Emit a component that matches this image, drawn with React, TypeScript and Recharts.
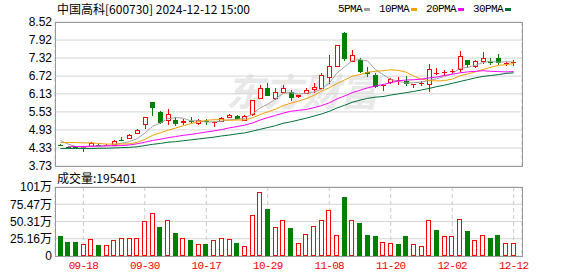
import React from 'react';
import { ComposedChart, Bar, Line, XAxis, YAxis, CartesianGrid } from 'recharts';

// 中国高科 600730 日K, 2024-09-11 .. 2024-12-12
const dates = [
  '09-11', '09-12', '09-13', '09-18', '09-19', '09-20', '09-23', '09-24', '09-25', '09-26',
  '09-27', '09-30', '10-08', '10-09', '10-10', '10-11', '10-14', '10-15', '10-16', '10-17',
  '10-18', '10-21', '10-22', '10-23', '10-24', '10-25', '10-28', '10-29', '10-30', '10-31',
  '11-01', '11-04', '11-05', '11-06', '11-07', '11-08', '11-11', '11-12', '11-13', '11-14',
  '11-15', '11-18', '11-19', '11-20', '11-21', '11-22', '11-25', '11-26', '11-27', '11-28',
  '11-29', '12-02', '12-03', '12-04', '12-05', '12-06', '12-09', '12-10', '12-11', '12-12',
];

const opens = [
  4.43, 4.36, 4.36, 4.33, 4.38, 4.43, 4.41, 4.42, 4.61, 4.66,
  4.80, 5.12, 5.87, 5.53, 5.24, 5.25, 5.17, 5.22, 5.15, 5.23,
  5.15, 5.22, 5.35, 5.40, 5.25, 5.43, 5.98, 6.31, 5.96, 6.18,
  6.20, 6.03, 6.15, 6.26, 6.30, 6.66, 7.05, 8.17, 7.22, 7.24,
  6.85, 6.75, 6.38, 6.50, 6.57, 6.55, 6.42, 6.45, 6.43, 6.80,
  6.82, 6.88, 6.94, 7.27, 7.05, 7.22, 7.18, 7.33, 7.15, 7.15,
];
const highs = [
  4.45, 4.37, 4.38, 4.38, 4.52, 4.46, 4.47, 4.58, 4.70, 4.78,
  4.97, 5.35, 5.87, 5.55, 5.64, 5.35, 5.28, 5.36, 5.28, 5.30,
  5.20, 5.37, 5.46, 5.42, 5.42, 5.92, 6.44, 6.50, 6.32, 6.44,
  6.27, 6.10, 6.33, 6.48, 6.81, 7.42, 7.75, 8.18, 7.60, 7.33,
  7.02, 6.83, 6.44, 6.66, 6.68, 6.72, 6.47, 6.55, 7.11, 6.98,
  6.92, 6.96, 7.57, 7.27, 7.24, 7.53, 7.33, 7.47, 7.20, 7.25,
];
const lows = [
  4.39, 4.33, 4.33, 4.19, 4.37, 4.39, 4.38, 4.41, 4.59, 4.63,
  4.79, 4.96, 5.40, 5.14, 5.08, 5.05, 5.10, 5.13, 5.09, 5.10,
  5.03, 5.20, 5.33, 5.28, 5.22, 5.40, 5.96, 6.05, 5.94, 6.15,
  5.88, 5.98, 6.12, 6.17, 6.28, 6.46, 7.02, 7.22, 7.20, 6.83,
  6.68, 6.33, 6.22, 6.45, 6.44, 6.38, 6.31, 6.38, 6.20, 6.75,
  6.72, 6.78, 6.86, 6.98, 6.98, 7.12, 7.08, 7.10, 7.05, 7.05,
];
const closes = [
  4.41, 4.35, 4.34, 4.36, 4.47, 4.41, 4.43, 4.54, 4.60, 4.74,
  4.91, 5.33, 5.67, 5.16, 5.44, 5.12, 5.22, 5.20, 5.23, 5.18,
  5.19, 5.31, 5.42, 5.31, 5.37, 5.91, 6.31, 6.07, 6.16, 6.31,
  5.98, 6.08, 6.24, 6.35, 6.74, 7.03, 7.73, 7.30, 7.42, 6.85,
  6.78, 6.37, 6.42, 6.61, 6.59, 6.45, 6.46, 6.48, 6.93, 6.83,
  6.86, 6.90, 7.36, 7.08, 7.22, 7.30, 7.16, 7.15, 7.17, 7.18,
];
const prevCloseBefore = 4.45;

const ma5 = [
  4.58, 4.46, 4.38, 4.35, 4.39, 4.39, 4.40, 4.44, 4.49, 4.54,
  4.64, 4.82, 5.05, 5.16, 5.30, 5.34, 5.32, 5.23, 5.24, 5.19,
  5.20, 5.22, 5.27, 5.28, 5.32, 5.46, 5.66, 5.79, 5.96, 6.15,
  6.17, 6.12, 6.15, 6.19, 6.28, 6.49, 6.82, 7.03, 7.24, 7.27,
  7.22, 6.94, 6.77, 6.61, 6.55, 6.49, 6.50, 6.52, 6.58, 6.63,
  6.71, 6.80, 6.98, 7.01, 7.08, 7.17, 7.22, 7.18, 7.20, 7.19,
];
const ma10 = [
  4.51, 4.51, 4.51, 4.50, 4.50, 4.48, 4.46, 4.46, 4.46, 4.47,
  4.52, 4.61, 4.75, 4.83, 4.92, 4.99, 5.07, 5.14, 5.20, 5.25,
  5.27, 5.27, 5.25, 5.26, 5.26, 5.33, 5.44, 5.53, 5.62, 5.74,
  5.82, 5.89, 5.97, 6.08, 6.22, 6.33, 6.47, 6.59, 6.72, 6.77,
  6.85, 6.88, 6.90, 6.93, 6.91, 6.85, 6.72, 6.62, 6.57, 6.56,
  6.57, 6.62, 6.73, 6.79, 6.86, 6.94, 7.01, 7.08, 7.10, 7.14,
];
const ma20 = [
  null, 4.37, 4.38, 4.38, 4.39, 4.39, 4.40, 4.40, 4.41, 4.43,
  4.47, 4.52, 4.58, 4.62, 4.67, 4.71, 4.75, 4.78, 4.82, 4.86,
  4.90, 4.94, 5.00, 5.04, 5.09, 5.16, 5.26, 5.34, 5.41, 5.49,
  5.55, 5.58, 5.61, 5.67, 5.74, 5.83, 5.96, 6.06, 6.17, 6.25,
  6.33, 6.39, 6.44, 6.50, 6.56, 6.59, 6.60, 6.62, 6.66, 6.69,
  6.74, 6.78, 6.83, 6.86, 6.88, 6.90, 6.88, 6.87, 6.86, 6.87,
];
const ma30 = [
  4.31, 4.31, 4.31, 4.31, 4.31, 4.32, 4.32, 4.33, 4.34, 4.35,
  4.37, 4.41, 4.45, 4.48, 4.52, 4.54, 4.57, 4.60, 4.63, 4.66,
  4.69, 4.73, 4.76, 4.80, 4.83, 4.89, 4.95, 5.01, 5.07, 5.15,
  5.20, 5.26, 5.32, 5.39, 5.46, 5.55, 5.66, 5.75, 5.85, 5.92,
  5.98, 6.02, 6.04, 6.09, 6.13, 6.17, 6.21, 6.26, 6.31, 6.37,
  6.42, 6.48, 6.54, 6.60, 6.66, 6.71, 6.74, 6.77, 6.81, 6.83,
];

// 成交量, 万股
const volumes = [
  28.8, 20.0, 20.0, 18.0, 24.4, 15.6, 15.6, 23.0, 25.9, 25.9,
  25.9, 50.7, 62.0, 42.0, 53.0, 33.0, 26.8, 23.0, 18.0, 17.0,
  23.0, 25.9, 24.4, 18.5, 14.0, 60.5, 94.0, 68.0, 43.0, 52.0,
  40.5, 19.5, 32.7, 44.4, 53.0, 67.8, 31.2, 85.9, 53.0, 47.8,
  30.2, 28.8, 21.0, 19.5, 17.0, 28.8, 18.0, 15.0, 53.0, 37.6,
  28.8, 29.8, 54.6, 36.0, 24.0, 31.2, 25.9, 31.2, 19.5, 19.54,
];

const priceTicks = [3.73, 4.33, 4.93, 5.53, 6.13, 6.72, 7.32, 7.92, 8.52];
const volTicks = [0, 25.16, 50.31, 75.47, 100.63];
const volTickLabels = ['0', '25.16万', '50.31万', '75.47万', '101万'];
const dateTicks = ['09-18', '09-30', '10-17', '10-29', '11-08', '11-20', '12-02', '12-12'];

const maSeries = [
  { key: 'ma5', name: '5PMA', color: '#a0a0a0' },
  { key: 'ma10', name: '10PMA', color: '#f0a000' },
  { key: 'ma20', name: '20PMA', color: '#ff00ff' },
  { key: 'ma30', name: '30PMA', color: '#00703a' },
];

const RED = '#ff0000';
const GREEN = '#008000';
const W = 578;
const PLOT_LEFT = 55;
const PLOT_RIGHT = 56;

const data = dates.map((d, i) => ({
  date: d,
  open: opens[i],
  high: highs[i],
  low: lows[i],
  close: closes[i],
  range: [lows[i], highs[i]],
  ma5: ma5[i],
  ma10: ma10[i],
  ma20: ma20[i],
  ma30: ma30[i],
  vol: volumes[i],
  volUp: closes[i] >= (i === 0 ? prevCloseBefore : closes[i - 1]),
}));

const Candle = (props: any) => {
  const { x, y, width, height, payload } = props;
  if (!payload) return null;
  const { open, close, high, low } = payload;
  const top = Math.min(y, y + height);
  const k = Math.abs(height) / (high - low);
  const py = (v: number) => top + (high - v) * k;
  const cx = Math.round(x + width / 2) + 0.5;
  const up = close >= open;
  const color = up ? RED : GREEN;
  const bTop = py(Math.max(open, close));
  const bBot = py(Math.min(open, close));
  let body;
  if (bBot - bTop < 1.5) {
    body = <rect x={cx - 2.5} y={bTop} width={5} height={Math.max(1, bBot - bTop)} fill={color} />;
  } else if (up) {
    body = <rect x={cx - 2} y={bTop} width={4} height={bBot - bTop} fill="#fff" stroke={color} />;
  } else {
    body = <rect x={cx - 2.5} y={bTop} width={5} height={bBot - bTop} fill={color} />;
  }
  return (
    <g shapeRendering="crispEdges">
      <line x1={cx} x2={cx} y1={py(high)} y2={bTop} stroke={color} />
      <line x1={cx} x2={cx} y1={bBot} y2={py(low)} stroke={color} />
      {body}
    </g>
  );
};

const VolBar = (props: any) => {
  const { x, y, width, height, payload } = props;
  if (!payload) return null;
  const left = Math.round(x);
  const w = Math.round(width);
  if (payload.volUp) {
    return (
      <rect x={left + 0.5} y={y + 0.5} width={w - 1} height={Math.max(0, height - 1)}
        fill="#fff" stroke={RED} shapeRendering="crispEdges" />
    );
  }
  return <rect x={left} y={y} width={w} height={height} fill={GREEN} shapeRendering="crispEdges" />;
};

const axisFont = { fontSize: 12, fill: '#000', fontFamily: '"Liberation Sans", "Noto Sans CJK SC", sans-serif' };
const monoFont = '"Liberation Mono", monospace';

const App = () => {
  return (
    <div style={{ position: 'absolute', left: 0, top: 0, width: W, height: 276, background: '#fff', overflow: 'hidden' }}>
      {/* watermark */}
      <div style={{
        position: 'absolute', left: 226, top: 66, fontSize: 38, fontWeight: 700, fontStyle: 'italic',
        color: '#e8e8e8', fontFamily: '"Noto Sans CJK SC", sans-serif', lineHeight: '48px',
      }}>
        东方财富
      </div>

      <div style={{
        position: 'absolute', left: 57, top: 1, fontSize: 12, lineHeight: '16px', color: '#000',
        fontFamily: '"Noto Sans CJK SC", sans-serif', whiteSpace: 'nowrap',
      }}>
        中国高科[600730] 2024-12-12 15:00
      </div>

      <div style={{
        position: 'absolute', left: 338, top: 2, display: 'flex', alignItems: 'center',
        fontSize: 11, letterSpacing: -0.6, lineHeight: '14px', fontFamily: monoFont, color: '#000',
      }}>
        {maSeries.map((s) => (
          <span key={s.key} style={{ display: 'flex', alignItems: 'center', marginRight: 9 }}>
            <span>{s.name}</span>
            <span style={{ display: 'inline-block', width: 6, height: 3, background: s.color, marginLeft: 2 }} />
          </span>
        ))}
      </div>

      <div style={{ position: 'absolute', left: 0, top: 0 }}>
        <ComposedChart width={W} height={180} data={data}
          margin={{ top: 22, right: PLOT_RIGHT, bottom: 14, left: 0 }}>
          <CartesianGrid vertical={false} stroke="#d4d4d4" />
          <CartesianGrid horizontal={false} stroke="#c8c8c8" strokeDasharray="4 3" />
          <XAxis dataKey="date" ticks={dateTicks} interval={0} tick={false} axisLine={false} tickLine={false}
            height={0} padding={{ left: 1.5, right: 4.5 }} />
          <YAxis type="number" domain={[3.73, 8.52]} ticks={priceTicks} width={PLOT_LEFT} interval={0}
            tick={axisFont} tickFormatter={(v: number) => v.toFixed(2)} axisLine={false} tickLine={false}
            tickSize={0} tickMargin={3} allowDataOverflow />
          <Bar dataKey="range" shape={<Candle />} barSize={5} isAnimationActive={false} />
          {maSeries.map((s) => (
            <Line key={s.key} dataKey={s.key} type="linear" stroke={s.color} strokeWidth={1}
              dot={false} activeDot={false} isAnimationActive={false} />
          ))}
        </ComposedChart>
      </div>

      <div style={{
        position: 'absolute', left: 57, top: 170, fontSize: 12, lineHeight: '16px', color: '#000',
        fontFamily: '"Noto Sans CJK SC", sans-serif',
      }}>
        成交量:195401
      </div>

      <div style={{ position: 'absolute', left: 0, top: 170 }}>
        <ComposedChart width={W} height={106} data={data}
          margin={{ top: 17, right: PLOT_RIGHT, bottom: 0, left: 0 }}>
          <CartesianGrid vertical={false} stroke="#d4d4d4" />
          <CartesianGrid horizontal={false} stroke="#c8c8c8" strokeDasharray="4 3" />
          <XAxis dataKey="date" ticks={dateTicks} interval={0} axisLine={false} tickLine={false}
            tickSize={0} tickMargin={5} height={20} padding={{ left: 1.5, right: 4.5 }}
            tick={{ fontSize: 11, fill: RED, fontFamily: monoFont, letterSpacing: -0.7 }} />
          <YAxis type="number" domain={[0, 100.63]} ticks={volTicks} width={PLOT_LEFT} interval={0}
            tick={axisFont} tickFormatter={(v: number, i: number) => volTickLabels[i]}
            axisLine={false} tickLine={false} tickSize={0} tickMargin={3} allowDataOverflow />
          <Bar dataKey="vol" shape={<VolBar />} barSize={5} isAnimationActive={false} />
        </ComposedChart>
      </div>

      {/* plot frames */}
      <div style={{
        position: 'absolute', left: PLOT_LEFT, top: 22, width: W - PLOT_LEFT - PLOT_RIGHT + 1, height: 145,
        border: '1px solid #999', boxSizing: 'border-box', pointerEvents: 'none',
      }} />
      <div style={{
        position: 'absolute', left: PLOT_LEFT, top: 187, width: W - PLOT_LEFT - PLOT_RIGHT + 1, height: 70,
        border: '1px solid #999', boxSizing: 'border-box', pointerEvents: 'none',
      }} />
    </div>
  );
};

export default App;
